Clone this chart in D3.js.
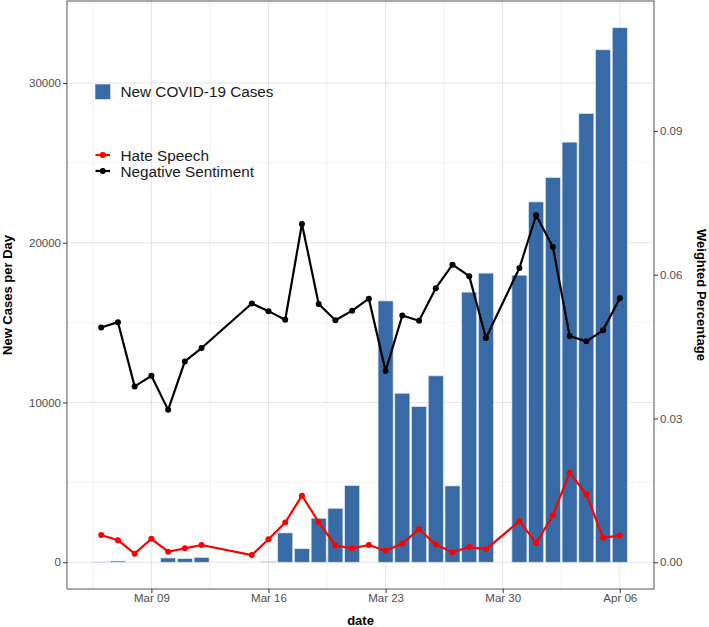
<!DOCTYPE html>
<html>
<head>
<meta charset="utf-8">
<script src="https://cdn.jsdelivr.net/npm/d3@7"></script>
<style>
  body { margin: 0; background: #fff; }
  text { font-family: "Liberation Sans", Arial, Helvetica, sans-serif; }
</style>
</head>
<body>
<div id="chart"></div>
<script>
// daily values, Mar 06 .. Apr 06 2020 (null = no value that day)
const days = ["2020-03-06","2020-03-07","2020-03-08","2020-03-09","2020-03-10","2020-03-11",
  "2020-03-12","2020-03-13","2020-03-14","2020-03-15","2020-03-16","2020-03-17","2020-03-18",
  "2020-03-19","2020-03-20","2020-03-21","2020-03-22","2020-03-23","2020-03-24","2020-03-25",
  "2020-03-26","2020-03-27","2020-03-28","2020-03-29","2020-03-30","2020-03-31","2020-04-01",
  "2020-04-02","2020-04-03","2020-04-04","2020-04-05","2020-04-06"];

const newCases = [20, 80, null, null, 270, 230, 300, null, null, null, 30, 1840, 850, 2760,
  3380, 4800, null, 16360, 10580, 9750, 11670, 4780, 16910, 18100, null, 17970, 22560,
  24080, 26300, 28090, 32080, 33460];

const hateSpeech = [0.0057, 0.0046, 0.0018, 0.0049, 0.0022, 0.0029, 0.0036, null, null,
  0.0015, 0.0048, 0.0083, 0.0139, 0.0084, 0.0035, 0.0029, 0.0036, 0.0024, 0.0039, 0.0069,
  0.0037, 0.0021, 0.0032, 0.0027, null, 0.0086, 0.0040, 0.0098, 0.0187, 0.0142, 0.0051, 0.0056];

const negSentiment = [0.0490, 0.0501, 0.0367, 0.0389, 0.0318, 0.0419, 0.0447, null, null,
  0.0540, 0.0524, 0.0506, 0.0706, 0.0539, 0.0505, 0.0525, 0.0550, 0.0399, 0.0515, 0.0504,
  0.0572, 0.0621, 0.0597, 0.0468, null, 0.0614, 0.0724, 0.0658, 0.0472, 0.0461, 0.0484, 0.0551];

const leftTicks = [0, 10000, 20000, 30000];
const rightTicks = [0, 0.03, 0.06, 0.09];
const secScale = 300000; // weighted percentage -> cases axis

const W = 709, H = 627;
const margin = {top: 1, right: 55, bottom: 38, left: 67};
const width = W - margin.left - margin.right,
      height = H - margin.top - margin.bottom;

const parse = d3.timeParse("%Y-%m-%d");
const data = days.map((d, i) => ({
  date: parse(d), cases: newCases[i], hate: hateSpeech[i], neg: negSentiment[i]
}));

const svg = d3.select("#chart").append("svg")
    .attr("width", W).attr("height", H)
  .append("g")
    .attr("transform", `translate(${margin.left},${margin.top})`);

// x: dates, with bar half-width plus 5% expansion
const DAY = 864e5;
const lo = +data[0].date - 0.45 * DAY, hi = +data[data.length - 1].date + 0.45 * DAY;
const pad = (hi - lo) * 0.05;
const x = d3.scaleTime().domain([lo - pad, hi + pad]).range([0, width]);

const ymax = d3.max(newCases);
const y = d3.scaleLinear().domain([-ymax * 0.05, ymax * 1.05]).range([height, 0]);

// grid
const xMajor = d3.timeMonday.range(new Date(2020, 2, 1), new Date(2020, 3, 10));
const xMinor = xMajor.map(d => new Date(+d - 3.5 * DAY));
const yMinor = [5000, 15000, 25000, 35000].filter(v => v < y.domain()[1]);

svg.append("g").selectAll("line").data(xMinor).join("line")
  .attr("x1", d => x(d)).attr("x2", d => x(d)).attr("y1", 0).attr("y2", height)
  .attr("stroke", "#f0f0f0").attr("stroke-width", 0.8);
svg.append("g").selectAll("line").data(yMinor).join("line")
  .attr("x1", 0).attr("x2", width).attr("y1", d => y(d)).attr("y2", d => y(d))
  .attr("stroke", "#f0f0f0").attr("stroke-width", 0.8);
svg.append("g").selectAll("line").data(xMajor.filter(d => x(d) > 0 && x(d) < width)).join("line")
  .attr("x1", d => x(d)).attr("x2", d => x(d)).attr("y1", 0).attr("y2", height)
  .attr("stroke", "#e6e6e6").attr("stroke-width", 1.1);
svg.append("g").selectAll("line").data(leftTicks).join("line")
  .attr("x1", 0).attr("x2", width).attr("y1", d => y(d)).attr("y2", d => y(d))
  .attr("stroke", "#e6e6e6").attr("stroke-width", 1.1);

// bars
const barColor = "#386ba6";
const bw = x(new Date(+lo + 0.9 * DAY)) - x(new Date(lo));
svg.append("g").selectAll("rect").data(data.filter(d => d.cases != null)).join("rect")
  .attr("x", d => x(d.date) - bw / 2)
  .attr("width", bw)
  .attr("y", d => y(d.cases))
  .attr("height", d => y(0) - y(d.cases))
  .attr("fill", barColor)
  .attr("stroke", "#dce5f0").attr("stroke-width", 0.7);

// lines
function drawSeries(key, color) {
  const pts = data.filter(d => d[key] != null);
  svg.append("path").datum(pts)
    .attr("fill", "none").attr("stroke", color).attr("stroke-width", 2.2)
    .attr("stroke-linejoin", "round")
    .attr("d", d3.line().x(d => x(d.date)).y(d => y(d[key] * secScale)));
  svg.append("g").selectAll("circle").data(pts).join("circle")
    .attr("cx", d => x(d.date)).attr("cy", d => y(d[key] * secScale))
    .attr("r", 3).attr("fill", color);
}
drawSeries("neg", "#000000");
drawSeries("hate", "#ff0000");

// panel border
svg.append("rect").attr("width", width).attr("height", height)
  .attr("fill", "none").attr("stroke", "#555").attr("stroke-width", 1);

// axes
function styleAxis(g) {
  g.select(".domain").remove();
  g.selectAll(".tick line").attr("stroke", "#333");
  g.selectAll(".tick text").attr("fill", "#4d4d4d")
    .style("font-size", "11.5px").style("font-family", '"Liberation Sans", Arial, sans-serif');
}
svg.append("g").attr("transform", `translate(0,${height})`)
  .call(d3.axisBottom(x).tickValues(xMajor.filter(d => x(d) > 0 && x(d) < width))
    .tickFormat(d3.timeFormat("%b %d")).tickSize(4).tickPadding(1))
  .call(styleAxis);
svg.append("g")
  .call(d3.axisLeft(y).tickValues(leftTicks).tickFormat(d3.format("d")).tickSize(4).tickPadding(2))
  .call(styleAxis);
svg.append("g").attr("transform", `translate(${width},0)`)
  .call(d3.axisRight(y).tickValues(rightTicks.map(v => v * secScale))
    .tickFormat(v => d3.format(".2f")(v / secScale)).tickSize(4).tickPadding(2))
  .call(styleAxis);

// axis titles
svg.append("text").attr("x", width / 2).attr("y", H - margin.top - 2)
  .attr("text-anchor", "middle").style("font-size", "13px").style("font-weight", "bold")
  .text("date");
svg.append("text").attr("transform", `translate(${12 - margin.left},${height / 2}) rotate(-90)`)
  .attr("text-anchor", "middle").style("font-size", "13px").style("font-weight", "bold")
  .text("New Cases per Day");
svg.append("text").attr("transform", `translate(${697 - margin.left},${height / 2}) rotate(90)`)
  .attr("text-anchor", "middle").style("font-size", "13px").style("font-weight", "bold")
  .text("Weighted Percentage");

// legends
const lg = svg.append("g").attr("transform", `translate(${95 - margin.left},${-margin.top})`);
lg.append("rect").attr("x", 0).attr("y", 84).attr("width", 15.5).attr("height", 15.5)
  .attr("fill", barColor).attr("stroke", "#dce5f0").attr("stroke-width", 0.7);
lg.append("text").attr("x", 25.5).attr("y", 96.7).style("font-size", "15.3px")
  .attr("fill", "#1a1a1a").text("New COVID-19 Cases");

const lineKeys = [{label: "Hate Speech", color: "#ff0000", y: 155},
                  {label: "Negative Sentiment", color: "#000000", y: 171}];
lineKeys.forEach(k => {
  lg.append("line").attr("x1", 0.5).attr("x2", 15).attr("y1", k.y).attr("y2", k.y)
    .attr("stroke", k.color).attr("stroke-width", 2.2);
  lg.append("circle").attr("cx", 7.75).attr("cy", k.y).attr("r", 3).attr("fill", k.color);
  lg.append("text").attr("x", 25.5).attr("y", k.y + 5.7).style("font-size", "15.3px")
    .attr("fill", "#1a1a1a").text(k.label);
});
</script>
</body>
</html>
